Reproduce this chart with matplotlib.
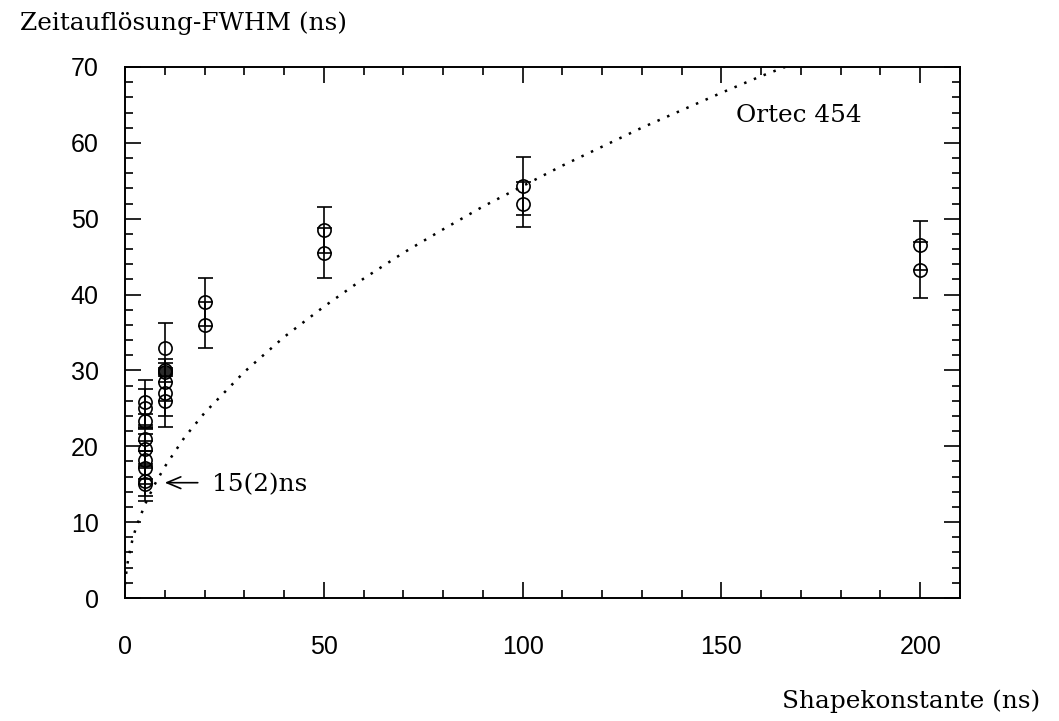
import matplotlib
matplotlib.use("Agg")
import matplotlib.pyplot as plt
from matplotlib.ticker import MultipleLocator

# ---- data ----
shape_5 = [5] * 9
res_5 = [25.8, 25.0, 23.3, 20.9, 19.6, 18.2, 17.2, 15.4, 15.0]
err_5 = [3.0, 2.5, 1.0, 1.5, 2.0, 2.5, 2.2, 2.0, 2.2]

shape_10 = [10] * 6
res_10 = [33.0, 30.0, 29.8, 28.5, 27.0, 26.0]
err_10 = [3.2, 1.5, 0.5, 2.5, 3.0, 3.5]

shape_20 = [20, 20]
res_20 = [39.0, 36.0]
err_20 = [3.2, 3.0]

shape_50 = [50, 50]
res_50 = [48.5, 45.5]
err_50 = [3.0, 3.3]

shape_100 = [100, 100]
res_100 = [54.3, 51.9]
err_100 = [3.8, 3.0]

shape_200 = [200, 200]
res_200 = [46.5, 43.2]
err_200 = [3.2, 3.7]

# Ortec 454 dotted curve
ortec_x = [0, 0.5, 1, 2, 3, 5, 7.5, 10, 15, 20, 30, 40, 50, 60, 70, 80,
           90, 100, 110, 120, 130, 140, 150, 160, 166]
ortec_y = [1.8, 4.2, 5.6, 8.0, 9.6, 12.3, 15.0, 17.3, 21.2, 24.4, 29.8,
           34.4, 38.4, 42.1, 45.5, 48.6, 51.6, 54.3, 57.0, 59.5, 62.0,
           64.3, 66.6, 68.8, 70.0]

x_ticks = [0, 50, 100, 150, 200]
y_ticks = [0, 10, 20, 30, 40, 50, 60, 70]

# ---- figure ----
fig = plt.figure(figsize=(10.59, 7.21), dpi=100)
ax = fig.add_axes([125 / 1059, 1 - 598 / 721, (960 - 125) / 1059, (598 - 67) / 721])

series = [(shape_5, res_5, err_5), (shape_10, res_10, err_10),
          (shape_20, res_20, err_20), (shape_50, res_50, err_50),
          (shape_100, res_100, err_100), (shape_200, res_200, err_200)]
for xs, ys, es in series:
    ax.errorbar(xs, ys, yerr=es, fmt='o', mfc='none', mec='black',
                ms=9.5, mew=1.2, ecolor='black', elinewidth=1.2,
                capsize=5.4, capthick=1.2, zorder=3)

ax.plot(ortec_x, ortec_y, color='black', linestyle=(0, (1, 3.2)),
        linewidth=1.8, zorder=2)

ax.set_xlim(0, 210)
ax.set_ylim(0, 70)
ax.set_xticks(x_ticks)
ax.set_yticks(y_ticks)
ax.xaxis.set_minor_locator(MultipleLocator(10))
ax.yaxis.set_minor_locator(MultipleLocator(2))
ax.tick_params(which='both', direction='in', top=True, right=True,
               width=1.2, colors='black')
ax.tick_params(which='major', length=11.5)
ax.tick_params(which='minor', length=5.8)
ax.tick_params(axis='x', which='major', pad=27)
ax.tick_params(axis='y', which='major', pad=19)
for lab in ax.get_xticklabels() + ax.get_yticklabels():
    lab.set_fontfamily('Liberation Sans')
    lab.set_fontsize(18)
for s in ax.spines.values():
    s.set_linewidth(1.4)

serif = 'DejaVu Serif'
fs = 17.8
ax.text(0.732, 0.908, 'Ortec 454', transform=ax.transAxes, fontsize=fs,
        family=serif, ha='left', va='center')

ax.annotate('', xy=(10.0, 15.2), xytext=(18.3, 15.2),
            arrowprops=dict(arrowstyle='->,head_length=1.0,head_width=0.42',
                            color='black', lw=1.2, shrinkA=0, shrinkB=0))
ax.text(21.8, 15.0, '15(2)ns', fontsize=fs, family=serif,
        ha='left', va='center')

fig.text(20 / 1059, 1 - 23 / 721, 'Zeitauflösung-FWHM (ns)', fontsize=fs,
         family=serif, ha='left', va='center')
fig.text(1040 / 1059, 1 - 701 / 721, 'Shapekonstante (ns)', fontsize=fs,
         family=serif, ha='right', va='center')

fig.savefig('out.png', dpi=100, facecolor='white')
